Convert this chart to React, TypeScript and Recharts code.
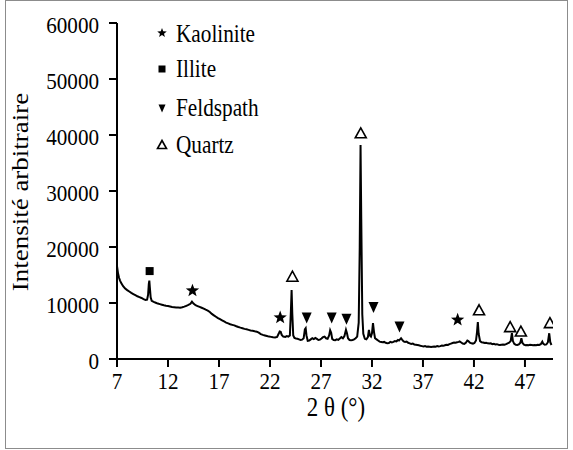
import React from 'react';
import { ComposedChart, Line, Scatter, XAxis, YAxis, Label } from 'recharts';

const FONT = '"Liberation Serif", "Times New Roman", Times, serif';

const xTicks = [7, 12, 17, 22, 27, 32, 37, 42, 47];
const yTicks = [0, 10000, 20000, 30000, 40000, 50000, 60000];

// diffractogram: [2θ (°), intensity]
const pattern: [number, number][] = [
  [7.0, 16600], [7.1, 15300], [7.2, 14500], [7.3, 14000], [7.4, 13600], [7.5, 13300],
  [7.6, 13000], [7.8, 12600], [8.0, 12300], [8.2, 12050], [8.4, 11800], [8.6, 11600],
  [8.8, 11400], [9.0, 11200], [9.2, 11050], [9.4, 10900], [9.6, 10700], [9.8, 10550],
  [9.95, 10600], [10.05, 11500], [10.12, 13400], [10.17, 14000], [10.22, 12800], [10.3, 11000],
  [10.4, 10400], [10.6, 10200], [10.8, 10050], [11.0, 9900], [11.2, 9800], [11.4, 9700],
  [11.6, 9600], [11.8, 9520], [12.0, 9450], [12.2, 9380], [12.4, 9300], [12.6, 9250],
  [12.8, 9200], [13.0, 9180], [13.2, 9160], [13.4, 9250], [13.6, 9350], [13.8, 9500],
  [14.0, 9650], [14.2, 9850], [14.35, 10250], [14.5, 9900], [14.7, 9600], [14.9, 9450],
  [15.1, 9300], [15.3, 9150], [15.5, 9000], [15.7, 8800], [15.9, 8650], [16.1, 8400],
  [16.3, 8050], [16.5, 7800], [16.7, 7550], [16.9, 7300], [17.1, 7100], [17.3, 6900],
  [17.5, 6700], [17.7, 6500], [17.9, 6350], [18.1, 6200], [18.3, 6100], [18.5, 6000],
  [18.7, 5850], [18.9, 5720], [19.1, 5600], [19.3, 5500], [19.5, 5380], [19.7, 5300],
  [19.9, 5200], [20.1, 5100], [20.3, 5050], [20.5, 4950], [20.7, 4880], [20.9, 4700],
  [21.1, 4450], [21.3, 4300], [21.5, 4200], [21.7, 4100], [21.9, 4000], [22.1, 3950],
  [22.3, 3870], [22.5, 3850], [22.7, 3950], [22.85, 4500], [22.95, 4900], [23.05, 4850],
  [23.15, 4300], [23.3, 4000], [23.5, 3950], [23.65, 4100], [23.8, 4000], [23.95, 4200],
  [24.05, 8500], [24.12, 12300], [24.19, 8000], [24.28, 4200], [24.4, 3750], [24.55, 3650],
  [24.7, 3600], [24.85, 3500], [25.0, 3400], [25.15, 3450], [25.3, 3700], [25.42, 5300],
  [25.5, 5500], [25.58, 4200], [25.7, 3250], [25.85, 3300], [26.0, 3500], [26.15, 3700],
  [26.3, 3550], [26.45, 3750], [26.6, 3600], [26.75, 3400], [26.9, 3450], [27.05, 3650],
  [27.2, 3900], [27.35, 4000], [27.5, 3700], [27.65, 3600], [27.8, 4200], [27.9, 5150],
  [28.0, 4700], [28.1, 3600], [28.25, 3400], [28.4, 3350], [28.55, 3500], [28.7, 3400],
  [28.85, 3650], [29.0, 3900], [29.15, 3700], [29.3, 4100], [29.45, 5200], [29.55, 4600],
  [29.65, 3700], [29.8, 3400], [29.95, 3350], [30.1, 3400], [30.25, 3500], [30.4, 3700],
  [30.55, 4000], [30.7, 6500], [30.8, 20000], [30.88, 38200], [30.95, 25000], [31.05, 8000],
  [31.15, 4500], [31.3, 3600], [31.45, 3500], [31.6, 3900], [31.7, 5200], [31.8, 4200],
  [31.9, 4000], [32.0, 4600], [32.1, 6400], [32.2, 4800], [32.3, 3700], [32.45, 3500],
  [32.6, 3300], [32.75, 3100], [32.9, 3050], [33.05, 3000], [33.2, 3050], [33.35, 2900],
  [33.5, 2800], [33.65, 2850], [33.8, 3050], [33.95, 2950], [34.1, 3050], [34.25, 3200],
  [34.4, 3150], [34.55, 3400], [34.65, 3300], [34.75, 3500], [34.85, 3700], [34.95, 3450],
  [35.1, 3150], [35.25, 3050], [35.4, 3100], [35.55, 2900], [35.7, 2800], [35.85, 2700],
  [36.0, 2750], [36.15, 2600], [36.3, 2550], [36.45, 2500], [36.6, 2450], [36.75, 2350],
  [36.9, 2300], [37.05, 2250], [37.2, 2300], [37.35, 2200], [37.5, 2250], [37.65, 2200],
  [37.8, 2150], [37.95, 2200], [38.1, 2250], [38.25, 2200], [38.4, 2300], [38.55, 2250],
  [38.7, 2300], [38.85, 2400], [39.0, 2350], [39.15, 2450], [39.3, 2550], [39.45, 2500],
  [39.6, 2650], [39.75, 2750], [39.9, 2850], [40.05, 2950], [40.2, 2900], [40.35, 3000],
  [40.5, 3050], [40.6, 3150], [40.75, 2950], [40.9, 2750], [41.05, 2700], [41.2, 2900],
  [41.35, 3300], [41.45, 3200], [41.6, 2900], [41.75, 2800], [41.9, 2750], [42.05, 2850],
  [42.2, 3300], [42.3, 4800], [42.38, 6600], [42.46, 4500], [42.6, 3200], [42.75, 3000],
  [42.9, 2950], [43.05, 2850], [43.2, 2900], [43.35, 2800], [43.5, 2750], [43.65, 2800],
  [43.8, 2650], [43.95, 2700], [44.1, 2600], [44.25, 2650], [44.4, 2550], [44.55, 2500],
  [44.7, 2550], [44.85, 2600], [45.0, 2550], [45.15, 2650], [45.3, 2800], [45.45, 2900],
  [45.6, 3200], [45.72, 4600], [45.82, 3200], [45.95, 2700], [46.1, 2550], [46.25, 2500],
  [46.4, 2600], [46.55, 2900], [46.65, 3700], [46.75, 2900], [46.9, 2550], [47.05, 2450],
  [47.2, 2500], [47.35, 2450], [47.5, 2550], [47.65, 2500], [47.8, 2450], [47.95, 2500],
  [48.1, 2450], [48.25, 2550], [48.4, 2500], [48.55, 2650], [48.7, 3100], [48.8, 2700],
  [48.95, 2550], [49.1, 2600], [49.25, 3000], [49.38, 4600], [49.48, 3000], [49.6, 2500],
];

// phase markers placed above the peaks they identify
const kaolinite: [number, number][] = [[14.4, 12200], [23.0, 7400], [40.4, 7000]];
const illite: [number, number][] = [[10.2, 15700]];
const feldspath: [number, number][] = [[25.6, 7400], [28.05, 7400], [29.5, 7200], [32.15, 9300], [34.7, 5800]];
const quartz: [number, number][] = [[24.2, 14700], [30.9, 40300], [42.5, 8700], [45.55, 5700], [46.6, 4900], [49.45, 6400]];

const toPoints = (rows: [number, number][]) => rows.map(([t, v]) => ({ t, v }));

const starPath = (cx: number, cy: number, R: number) => {
  const r = R * 0.42;
  let d = '';
  for (let i = 0; i < 10; i++) {
    const rad = i % 2 === 0 ? R : r;
    const a = -Math.PI / 2 + (i * Math.PI) / 5;
    d += `${i === 0 ? 'M' : 'L'}${cx + rad * Math.cos(a)},${cy + rad * Math.sin(a)}`;
  }
  return d + 'Z';
};

const Star = ({ cx, cy, size = 7 }: any) => <path d={starPath(cx, cy, size)} fill="#000" />;
const Square = ({ cx, cy, size = 8 }: any) => (
  <rect x={cx - size / 2} y={cy - size / 2} width={size} height={size} fill="#000" />
);
const DownTri = ({ cx, cy, size = 10 }: any) => (
  <path d={`M${cx - size / 2},${cy - size / 2}L${cx + size / 2},${cy - size / 2}L${cx},${cy + size / 2 + 1}Z`} fill="#000" />
);
const OpenTri = ({ cx, cy, size = 11 }: any) => (
  <path
    d={`M${cx},${cy - size / 2}L${cx + size / 2},${cy + size / 2 - 1}L${cx - size / 2},${cy + size / 2 - 1}Z`}
    fill="#fff"
    stroke="#000"
    strokeWidth={1.6}
  />
);

const legendRows = [
  { name: 'Kaolinite', Icon: Star, size: 5, y: 33, base: 42 },
  { name: 'Illite', Icon: Square, size: 7, y: 69, base: 77 },
  { name: 'Feldspath', Icon: DownTri, size: 7, y: 108, base: 116 },
  { name: 'Quartz', Icon: OpenTri, size: 9, y: 145, base: 153 },
];

// text is set a little narrow, like the figure's serif type
const SQUEEZE = 0.88;

const XTick = ({ x, y, payload }: any) => (
  <text transform={`translate(${x},${y + 16}) scale(${SQUEEZE},1)`} textAnchor="middle" fontSize={24} fontFamily={FONT} fill="#000">
    {payload.value}
  </text>
);

const YTick = ({ x, y, payload }: any) => (
  <text transform={`translate(${x},${y + 10}) scale(${SQUEEZE},1)`} textAnchor="end" fontSize={24} fontFamily={FONT} fill="#000">
    {payload.value}
  </text>
);

const axisLine = { stroke: '#000', strokeWidth: 2 };

export default function App() {
  return (
    <div style={{ position: 'absolute', left: 0, top: 0, width: 573, height: 450, background: '#fff' }}>
      <div
        style={{
          position: 'absolute', left: 5, top: 0, width: 561, height: 447,
          border: '1px solid #8c8c8c',
        }}
      />
      <ComposedChart
        width={573}
        height={450}
        margin={{ top: 23, right: 20, bottom: 31, left: 0 }}
        style={{ position: 'absolute', left: 0, top: 0 }}
      >
        <XAxis
          type="number"
          dataKey="t"
          domain={[7, 49.75]}
          ticks={xTicks}
          allowDataOverflow
          height={60}
          tickSize={8}
          tickMargin={6}
          axisLine={axisLine}
          tickLine={axisLine}
          tick={<XTick />}
        >
          <Label
            content={() => (
              <text
                transform={`translate(336,416) scale(0.85,1)`}
                textAnchor="middle"
                fontSize={27}
                fontFamily={FONT}
                fill="#000"
              >
                2 θ (°)
              </text>
            )}
          />
        </XAxis>
        <YAxis
          type="number"
          domain={[0, 60000]}
          ticks={yTicks}
          width={117}
          tickSize={8}
          tickMargin={10}
          interval={0}
          axisLine={axisLine}
          tickLine={axisLine}
          tick={<YTick />}
        >
          <Label
            content={() => (
              <text
                transform="translate(28,192) scale(0.84,1) rotate(-90)"
                textAnchor="middle"
                fontSize={27}
                fontFamily={FONT}
                fill="#000"
              >
                Intensité arbitraire
              </text>
            )}
          />
        </YAxis>
        <Line
          data={toPoints(pattern)}
          dataKey="v"
          type="linear"
          stroke="#000"
          strokeWidth={2}
          dot={false}
          isAnimationActive={false}
        />
        <Scatter data={toPoints(kaolinite)} dataKey="v" shape={(p: any) => <Star cx={p.cx} cy={p.cy} />} isAnimationActive={false} />
        <Scatter data={toPoints(illite)} dataKey="v" shape={(p: any) => <Square cx={p.cx} cy={p.cy} />} isAnimationActive={false} />
        <Scatter data={toPoints(feldspath)} dataKey="v" shape={(p: any) => <DownTri cx={p.cx} cy={p.cy} />} isAnimationActive={false} />
        <Scatter data={toPoints(quartz)} dataKey="v" shape={(p: any) => <OpenTri cx={p.cx} cy={p.cy} />} isAnimationActive={false} />
      </ComposedChart>
      <svg width={573} height={450} style={{ position: 'absolute', left: 0, top: 0, pointerEvents: 'none' }}>
        {legendRows.map(({ name, Icon, size, y, base }) => (
          <g key={name}>
            <Icon cx={162} cy={y} size={size} />
            <text transform={`translate(176,${base}) scale(0.85,1)`} fontSize={25} fontFamily={FONT} fill="#000">
              {name}
            </text>
          </g>
        ))}
      </svg>
    </div>
  );
}
